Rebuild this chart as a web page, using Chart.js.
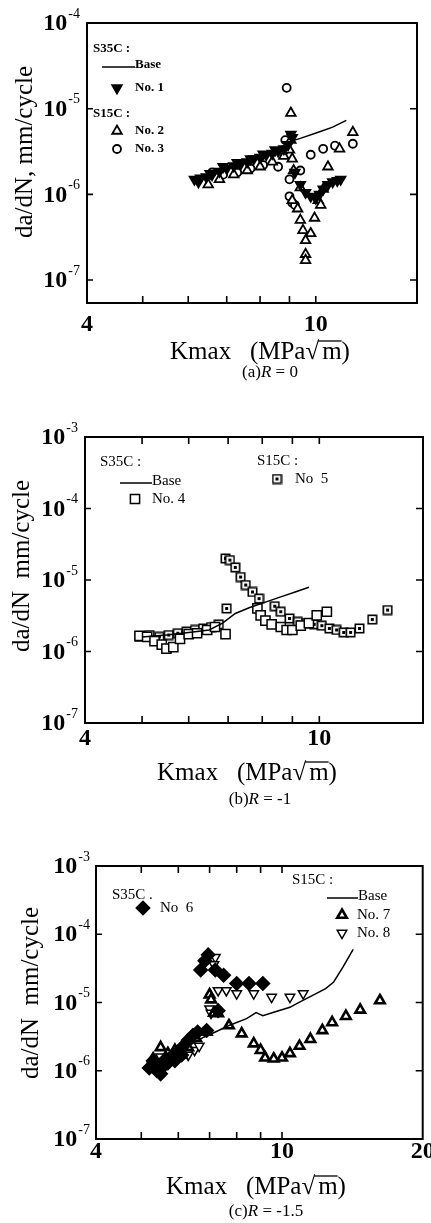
<!DOCTYPE html>
<html>
<head>
<meta charset="utf-8">
<script src="https://cdn.jsdelivr.net/npm/chart.js@4.4.0/dist/chart.umd.min.js"></script>
<style>
  body { margin: 0; background: #fff; width: 431px; height: 1223px; overflow: hidden; position: relative; }
  canvas { position: absolute; left: 0; }
</style>
</head>
<body>
<canvas id="chartA" width="431" height="390" style="top:0px"></canvas>
<canvas id="chartB" width="431" height="425" style="top:390px"></canvas>
<canvas id="chartC" width="431" height="408" style="top:815px"></canvas>
<script>
// ---- (a) R = 0 ----
const aBaseK  = [6.2, 6.6, 7.0, 7.5, 8.0, 8.5, 8.98, 9.4, 10.1, 10.7, 11.3];
const aBaseDa = [1.5e-6, 1.7e-6, 1.95e-6, 2.3e-6, 2.7e-6, 3.2e-6, 4.1e-6, 4.5e-6, 5.3e-6, 6.1e-6, 7.3e-6];
const aNo1K  = [6.15, 6.25, 6.3, 6.45, 6.55, 6.6, 6.8, 6.9, 7.0, 7.2, 7.3, 7.4, 7.6, 7.7, 7.8, 8.0, 8.1, 8.2, 8.4, 8.5, 8.6, 8.8, 8.95, 9.05, 9.1,
                9.2, 9.4, 9.6, 9.8, 10.0, 10.15, 10.3, 10.5, 10.7, 10.9, 11.05];
const aNo1Da = [1.5e-6, 1.4e-6, 1.55e-6, 1.6e-6, 1.75e-6, 1.7e-6, 1.85e-6, 2.1e-6, 2.0e-6, 2.15e-6, 2.35e-6, 2.25e-6, 2.4e-6, 2.6e-6, 2.6e-6, 2.7e-6, 2.95e-6, 2.9e-6, 3.0e-6, 3.3e-6, 3.2e-6, 3.4e-6, 3.8e-6, 5.0e-6, 4.6e-6,
                1.8e-6, 1.3e-6, 1.05e-6, 9.5e-7, 9.0e-7, 1.0e-6, 1.15e-6, 1.3e-6, 1.4e-6, 1.45e-6, 1.5e-6];
const aNo2K  = [6.5, 6.8, 7.2, 7.6, 8.0, 8.4, 8.8, 9.0, 9.05, 9.05, 9.1, 9.15, 9.4, 9.1, 9.3, 9.4, 9.5, 9.6, 9.6, 9.6,
                9.8, 9.95, 10.1, 10.2, 10.3, 10.5, 11.0, 11.6];
const aNo2Da = [1.3e-6, 1.5e-6, 1.7e-6, 1.9e-6, 2.1e-6, 2.4e-6, 2.8e-6, 3.3e-6, 8.9e-6, 4.3e-6, 2.6e-6, 1.9e-6, 1.2e-6, 8.5e-7, 6.8e-7, 5.0e-7, 3.8e-7, 2.9e-7, 2.0e-7, 1.7e-7,
                3.5e-7, 5.3e-7, 8.5e-7, 7.5e-7, 1.15e-6, 2.1e-6, 3.4e-6, 5.3e-6];
const aNo3K  = [6.6, 6.9, 7.3, 7.7, 8.1, 8.6, 8.8, 8.85, 8.9, 9.0, 9.0, 9.1, 9.2, 9.4, 9.8, 10.3, 10.8, 11.6];
const aNo3Da = [1.8e-6, 1.7e-6, 1.8e-6, 2.0e-6, 2.2e-6, 2.1e-6, 3.2e-6, 4.3e-6, 1.75e-5, 1.5e-6, 9.5e-7, 8.0e-7, 7.5e-7, 1.9e-6, 2.9e-6, 3.4e-6, 3.7e-6, 3.9e-6];

// ---- (b) R = -1 ----
const bBaseK  = [5.0, 5.5, 6.0, 6.5, 6.85, 7.2, 7.6, 8.1, 8.6, 9.1, 9.6];
const bBaseDa = [1.6e-6, 1.7e-6, 1.85e-6, 2.0e-6, 2.5e-6, 3.4e-6, 4.1e-6, 4.9e-6, 5.8e-6, 6.8e-6, 7.9e-6];
const bNo4K  = [4.95, 5.1, 5.25, 5.4, 5.5, 5.65, 5.8, 6.0, 6.2, 6.45, 6.65, 6.93, 7.85, 7.95, 8.1, 8.3, 8.6, 8.8, 9.0, 9.3, 9.6, 9.9, 10.3];
const bNo4Da = [1.65e-6, 1.6e-6, 1.4e-6, 1.25e-6, 1.1e-6, 1.15e-6, 1.5e-6, 1.75e-6, 1.8e-6, 2.0e-6, 2.2e-6, 1.75e-6, 4.0e-6, 3.2e-6, 2.7e-6, 2.4e-6, 2.2e-6, 2.0e-6, 2.0e-6, 2.3e-6, 2.5e-6, 3.2e-6, 3.6e-6];
const bNo5K  = [4.95, 5.15, 5.35, 5.55, 5.75, 5.95, 6.15, 6.35, 6.55, 6.75, 6.96, 6.93, 7.05, 7.2, 7.35, 7.5, 7.7, 7.9, 8.4, 8.6, 8.9,
                9.2, 9.5, 9.8, 10.1, 10.4, 10.7, 11.0, 11.3, 11.7, 12.3, 13.06];
const bNo5Da = [1.6e-6, 1.7e-6, 1.6e-6, 1.7e-6, 1.8e-6, 1.9e-6, 2.0e-6, 2.1e-6, 2.2e-6, 2.4e-6, 4.0e-6, 2.0e-5, 1.9e-5, 1.5e-5, 1.1e-5, 8.5e-6, 6.8e-6, 5.5e-6, 4.3e-6, 3.6e-6, 2.9e-6,
                2.6e-6, 2.5e-6, 2.4e-6, 2.3e-6, 2.1e-6, 2.0e-6, 1.85e-6, 1.85e-6, 2.1e-6, 2.8e-6, 3.8e-6];

// ---- (c) R = -1.5 ----
const cBaseK  = [5.3, 5.8, 6.3, 6.8, 7.2, 7.7, 8.4, 8.8, 9.1, 9.6, 10.4, 10.8, 11.6, 12.4, 12.9, 13.5, 14.2];
const cBaseDa = [1.2e-6, 1.6e-6, 2.3e-6, 3.1e-6, 3.7e-6, 4.6e-6, 5.8e-6, 7.1e-6, 6.4e-6, 7.2e-6, 8.5e-6, 9.8e-6, 1.26e-5, 1.6e-5, 2.0e-5, 3.3e-5, 6.0e-5];
const cNo6K  = [5.2, 5.3, 5.4, 5.5, 5.6, 5.65, 5.7, 5.8, 5.9, 6.0, 6.1, 6.15, 6.3, 6.45, 6.6, 6.9, 6.7, 6.84, 6.95, 7.2, 7.5, 8.0, 8.5, 9.1, 7.3];
const cNo6Da = [1.1e-6, 1.4e-6, 1.0e-6, 9.0e-7, 1.2e-6, 1.5e-6, 1.3e-6, 1.6e-6, 1.4e-6, 1.9e-6, 1.7e-6, 2.3e-6, 2.8e-6, 3.3e-6, 3.7e-6, 3.9e-6, 3.0e-5, 4.1e-5, 5.0e-5, 3.0e-5, 2.5e-5, 1.9e-5, 1.9e-5, 1.9e-5, 7.6e-6];
const cNo7K  = [5.3, 5.5, 5.7, 5.9, 6.1, 6.3, 6.55, 6.9, 7.0, 7.05, 7.15, 7.3, 7.7, 8.2, 8.7, 9.0, 9.2, 9.6, 10.0, 10.4, 10.9, 11.5,
                12.2, 12.8, 13.7, 14.7, 16.2];
const cNo7Da = [1.5e-6, 2.2e-6, 1.8e-6, 2.0e-6, 1.7e-6, 2.2e-6, 3.0e-6, 3.7e-6, 1.3e-5, 1.1e-5, 7.0e-6, 6.9e-6, 4.6e-6, 3.5e-6, 2.5e-6, 2.0e-6, 1.55e-6, 1.5e-6, 1.55e-6, 1.8e-6, 2.3e-6, 2.9e-6,
                3.9e-6, 5.1e-6, 6.3e-6, 7.8e-6, 1.07e-5];
const cNo8K  = [5.3, 5.5, 5.7, 5.9, 6.1, 6.3, 6.5, 6.65, 7.0, 7.05, 7.2, 7.15, 7.3, 7.6, 8.0, 8.7, 9.5, 10.4, 11.1];
const cNo8Da = [1.3e-6, 1.6e-6, 1.5e-6, 1.7e-6, 1.8e-6, 1.7e-6, 2.0e-6, 2.3e-6, 8.1e-6, 7.0e-6, 4.6e-5, 3.6e-5, 1.5e-5, 1.5e-5, 1.35e-5, 1.35e-5, 1.2e-5, 1.2e-5, 1.35e-5];

const yDecades = [1e-3, 1e-4, 1e-5, 1e-6, 1e-7];
const xMinor = [5, 6, 7, 8, 9, 10];

const SERIF = "'Liberation Serif', 'DejaVu Serif', serif";

function pts(ks, ds) {
  return ks.map((k, i) => ({ x: k, y: ds[i] }));
}

// square with a dot in it (No 5)
function dotSquare() {
  const c = document.createElement('canvas');
  c.width = 11; c.height = 11;
  const g = c.getContext('2d');
  g.fillStyle = '#fff'; g.fillRect(1, 1, 9, 9);
  g.strokeStyle = '#000'; g.lineWidth = 1.6; g.strokeRect(1.3, 1.3, 8.4, 8.4);
  g.fillStyle = '#000'; g.fillRect(4, 4, 3, 3);
  return c;
}
const dotSq = dotSquare();

const base = (ks, ds) => ({
  label: 'Base', data: pts(ks, ds), showLine: true, pointRadius: 0,
  borderColor: '#000', borderWidth: 1.5, tension: 0
});
const mark = (label, ks, ds, st) => Object.assign({
  label, data: pts(ks, ds), showLine: false,
  pointBackgroundColor: '#fff', pointBorderColor: '#000', pointBorderWidth: 1.8, pointRadius: 5
}, st);

const sty = {
  No1: { pointStyle: 'triangle', pointRotation: 180, pointBackgroundColor: '#000', pointRadius: 5.5 },
  No2: { pointStyle: 'triangle', pointRadius: 5.5 },
  No3: { pointStyle: 'circle', pointRadius: 4 },
  No4: { pointStyle: 'rect', pointRadius: 6.5, pointBorderWidth: 1.5 },
  No5: { pointStyle: dotSq, pointRadius: 5.5 },
  No6: { pointStyle: 'rectRot', pointBackgroundColor: '#000', pointRadius: 6.5 },
  No7: { pointStyle: 'triangle', pointRadius: 5.5, pointBorderWidth: 2.6 },
  No8: { pointStyle: 'triangle', pointRotation: 180, pointRadius: 5.5, pointBorderWidth: 1.5 }
};

const panels = {
  chartA: {
    h: 390, area: { l: 87, t: 23, r: 417, b: 303 },
    xMin: 4, xMax: 15, yMin: 5.4e-8, yMax: 1e-4,
    yTicks: [1e-4, 1e-5, 1e-6, 1e-7], xLabels: [4, 10], topTicks: false,
    xLabelDy: 22, yLabelGap: 7,
    yTitle: 'da/dN, mm/cycle', yTitlePos: [25, 152],
    xTitlePos: [260, 352], sub: ['(a)', 'R', ' = 0'], subPos: [270, 373],
    legend: {
      font: 'bold 13px ' + SERIF,
      items: [
        { text: 'S35C :', x: 93, y: 49 },
        { line: true, x: 102, y: 67, w: 33, text: 'Base' },
        { ds: 'No1', x: 117, y: 88, text: 'No. 1', tx: 135 },
        { text: 'S15C :', x: 93, y: 114 },
        { ds: 'No2', x: 117, y: 131, text: 'No. 2', tx: 135 },
        { ds: 'No3', x: 117, y: 149, text: 'No. 3', tx: 135 }
      ]
    },
    datasets: [
      base(aBaseK, aBaseDa),
      mark('No. 1', aNo1K, aNo1Da, sty.No1),
      mark('No. 2', aNo2K, aNo2Da, sty.No2),
      mark('No. 3', aNo3K, aNo3Da, sty.No3)
    ]
  },
  chartB: {
    h: 425, area: { l: 85, t: 47, r: 430, b: 333 },
    xMin: 4, xMax: 15, yMin: 1e-7, yMax: 1e-3,
    yTicks: yDecades, xLabels: [4, 10], topTicks: true,
    xLabelDy: 16, yLabelGap: 7,
    yTitle: 'da/dN  mm/cycle', yTitlePos: [22, 176],
    xTitlePos: [247, 383], sub: ['(b)', 'R', ' = -1'], subPos: [260, 410],
    legend: {
      font: '15px ' + SERIF,
      items: [
        { text: 'S35C :', x: 100, y: 72 },
        { line: true, x: 120, y: 93, w: 32, text: 'Base' },
        { ds: 'No4', x: 135, y: 109, text: 'No. 4', tx: 152 },
        { text: 'S15C :', x: 257, y: 71 },
        { ds: 'No5', x: 277, y: 89, text: 'No  5', tx: 295 }
      ]
    },
    datasets: [
      base(bBaseK, bBaseDa),
      mark('No. 4', bNo4K, bNo4Da, sty.No4),
      mark('No 5', bNo5K, bNo5Da, sty.No5)
    ]
  },
  chartC: {
    h: 408, area: { l: 96, t: 51, r: 424, b: 324 },
    xMin: 4, xMax: 20, yMin: 1e-7, yMax: 1e-3,
    yTicks: yDecades, xLabels: [4, 10, 20], topTicks: true,
    xLabelDy: 13, yLabelGap: 6,
    yTitle: 'da/dN  mm/cycle', yTitlePos: [31, 178],
    xTitlePos: [256, 372], sub: ['(c)', 'R', ' = -1.5'], subPos: [266, 397],
    legend: {
      font: '15px ' + SERIF,
      items: [
        { text: 'S35C .', x: 112, y: 80 },
        { ds: 'No6', x: 143, y: 93, text: 'No  6', tx: 160 },
        { text: 'S15C :', x: 292, y: 65 },
        { line: true, x: 327, y: 83, w: 31, text: 'Base' },
        { ds: 'No7', x: 342, y: 100, text: 'No. 7', tx: 357 },
        { ds: 'No8', x: 342, y: 118, text: 'No. 8', tx: 357 }
      ]
    },
    datasets: [
      base(cBaseK, cBaseDa),
      mark('No 6', cNo6K, cNo6Da, sty.No6),
      mark('No. 7', cNo7K, cNo7Da, sty.No7),
      mark('No. 8', cNo8K, cNo8Da, sty.No8)
    ]
  }
};

function drawMarker(ctx, s, x, y) {
  ctx.save();
  ctx.fillStyle = s.pointBackgroundColor || '#fff';
  ctx.strokeStyle = '#000';
  ctx.lineWidth = s.pointBorderWidth || 1.8;
  Chart.helpers.drawPoint(ctx, {
    pointStyle: s.pointStyle, rotation: s.pointRotation || 0,
    radius: s.pointRadius, borderWidth: s.pointBorderWidth || 1.8
  }, x, y);
  ctx.restore();
}

const framePlugin = {
  id: 'frame',
  afterDraw(chart) {
    const p = panels[chart.canvas.id];
    const { ctx, chartArea: a, scales: { x, y } } = chart;
    ctx.save();
    ctx.strokeStyle = '#000';
    ctx.fillStyle = '#000';
    // frame
    ctx.lineWidth = 2;
    ctx.strokeRect(a.left, a.top, a.right - a.left, a.bottom - a.top);
    // inward ticks
    ctx.lineWidth = 1.6;
    ctx.beginPath();
    xMinor.forEach(v => {
      if (v <= p.xMin || v >= p.xMax) return;
      const px = x.getPixelForValue(v);
      ctx.moveTo(px, a.bottom); ctx.lineTo(px, a.bottom - 7);
      if (p.topTicks) { ctx.moveTo(px, a.top); ctx.lineTo(px, a.top + 7); }
    });
    p.yTicks.forEach(v => {
      const py = y.getPixelForValue(v);
      ctx.moveTo(a.left, py); ctx.lineTo(a.left + 6, py);
      ctx.moveTo(a.right, py); ctx.lineTo(a.right - 7, py);
    });
    ctx.stroke();

    // y tick labels: 10 with exponent
    p.yTicks.forEach(v => {
      const py = y.getPixelForValue(v);
      const e = String(Math.round(Math.log10(v)));
      ctx.font = '14px ' + SERIF;
      const we = ctx.measureText(e).width;
      const right = a.left - p.yLabelGap;
      ctx.textAlign = 'left'; ctx.textBaseline = 'middle';
      ctx.fillText(e, right - we, py - 9);
      ctx.font = 'bold 24px ' + SERIF;
      ctx.textAlign = 'right';
      ctx.fillText('10', right - we - 1, py + 1);
    });

    // x tick labels
    ctx.font = 'bold 24px ' + SERIF;
    ctx.textAlign = 'center'; ctx.textBaseline = 'middle';
    p.xLabels.forEach(v => {
      ctx.fillText(String(v), x.getPixelForValue(v), a.bottom + p.xLabelDy);
    });

    // y title
    ctx.save();
    ctx.translate(p.yTitlePos[0], p.yTitlePos[1]);
    ctx.rotate(-Math.PI / 2);
    ctx.font = '25px ' + SERIF;
    ctx.textAlign = 'center'; ctx.textBaseline = 'middle';
    ctx.fillText(p.yTitle, 0, 0);
    ctx.restore();

    // x title: Kmax (MPa √m)
    ctx.font = '25px ' + SERIF;
    ctx.textAlign = 'left'; ctx.textBaseline = 'middle';
    const parts = ['Kmax   (MPa', '\u221A', 'm)'];
    const w = parts.map(t => ctx.measureText(t).width);
    let tx = p.xTitlePos[0] - (w[0] + w[1] + w[2] + 3) / 2;
    const ty = p.xTitlePos[1];
    ctx.fillText(parts[0], tx, ty); tx += w[0];
    ctx.fillText(parts[1], tx, ty);
    ctx.lineWidth = 1.3;
    ctx.beginPath();
    ctx.moveTo(tx + w[1] - 1, ty - 11); ctx.lineTo(tx + w[1] + 3 + ctx.measureText('m').width, ty - 11);
    ctx.stroke();
    tx += w[1] + 3;
    ctx.fillText(parts[2], tx, ty);

    // subtitle (x)R = v
    const fN = '17px ' + SERIF, fI = 'italic 17px ' + SERIF;
    ctx.font = fN; const s0 = ctx.measureText(p.sub[0]).width, s2 = ctx.measureText(p.sub[2]).width;
    ctx.font = fI; const s1 = ctx.measureText(p.sub[1]).width;
    let sx = p.subPos[0] - (s0 + s1 + s2) / 2;
    ctx.font = fN; ctx.fillText(p.sub[0], sx, p.subPos[1]); sx += s0;
    ctx.font = fI; ctx.fillText(p.sub[1], sx, p.subPos[1]); sx += s1;
    ctx.font = fN; ctx.fillText(p.sub[2], sx, p.subPos[1]);

    // legend
    ctx.font = p.legend.font;
    ctx.textBaseline = 'middle'; ctx.textAlign = 'left';
    p.legend.items.forEach(it => {
      if (it.line) {
        ctx.lineWidth = 1.5;
        ctx.beginPath(); ctx.moveTo(it.x, it.y); ctx.lineTo(it.x + it.w, it.y); ctx.stroke();
        ctx.fillText(it.text, it.x + it.w, it.y - 2);
      } else if (it.ds) {
        drawMarker(ctx, sty[it.ds], it.x, it.y);
        ctx.fillText(it.text, it.tx, it.y);
      } else {
        ctx.fillText(it.text, it.x, it.y);
      }
    });
    ctx.restore();
  }
};

function makeChart(id) {
  const p = panels[id];
  return new Chart(document.getElementById(id), {
    type: 'scatter',
    data: { datasets: p.datasets },
    options: {
      responsive: false,
      animation: false,
      layout: { padding: { top: p.area.t, right: 431 - p.area.r, left: 0, bottom: 0 } },
      scales: {
        x: {
          type: 'logarithmic', min: p.xMin, max: p.xMax,
          grid: { display: false }, border: { display: false }, ticks: { display: false },
          afterFit: s => { s.height = p.h - p.area.b; }
        },
        y: {
          type: 'logarithmic', min: p.yMin, max: p.yMax,
          grid: { display: false }, border: { display: false }, ticks: { display: false },
          afterFit: s => { s.width = p.area.l; }
        }
      },
      plugins: { legend: { display: false }, tooltip: { enabled: false } }
    },
    plugins: [framePlugin]
  });
}

makeChart('chartA');
makeChart('chartB');
makeChart('chartC');
</script>
</body>
</html>
